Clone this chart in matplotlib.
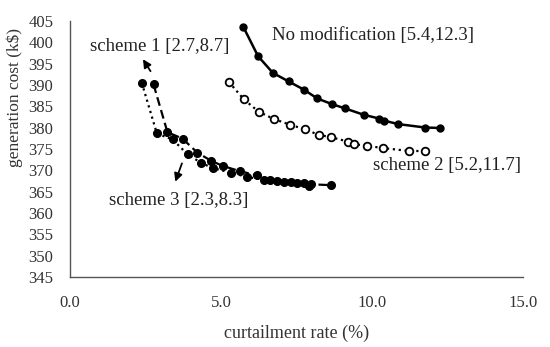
import matplotlib.pyplot as plt

plt.rcParams['font.family'] = ['Liberation Serif', 'DejaVu Serif']

# curtailment rate (%) / generation cost (k$)
nomod_x = [5.74, 6.23, 6.72, 7.24, 7.74, 8.19, 8.67, 9.10, 9.72, 10.24, 10.41, 10.87, 11.76, 12.24]
nomod_y = [403.6, 396.7, 392.8, 390.8, 388.9, 386.8, 385.5, 384.5, 383.0, 382.1, 381.6, 380.8, 380.0, 379.9]

s2_x = [5.26, 5.76, 6.25, 6.75, 7.27, 7.77, 8.23, 8.66, 9.21, 9.41, 9.85, 10.35, 11.24, 11.76]
s2_y = [390.7, 386.6, 383.7, 382.0, 380.7, 379.6, 378.3, 377.7, 376.7, 376.1, 375.7, 375.2, 374.5, 374.5]

s1_x = [2.77, 3.23, 3.73, 4.22, 4.68, 5.06, 5.62, 6.18, 6.64, 7.08, 7.53, 7.97, 8.63]
s1_y = [390.1, 378.9, 377.4, 374.1, 372.2, 371.0, 369.8, 368.8, 367.7, 367.3, 367.0, 366.7, 366.5]

s3_x = [2.38, 2.88, 3.40, 3.90, 4.35, 4.73, 5.34, 5.87, 6.42, 6.86, 7.31, 7.75, 7.92]
s3_y = [390.5, 378.6, 377.2, 373.7, 371.7, 370.5, 369.4, 368.4, 367.8, 367.5, 367.2, 366.9, 366.4]

fig = plt.figure(figsize=(5.5, 3.47), dpi=100)
ax = fig.add_axes([0.127, 0.202, 0.824, 0.738])

ax.plot(nomod_x, nomod_y, '-', color='black', lw=1.8, marker='o', ms=5)
ax.plot(s2_x, s2_y, ':', color='black', lw=1.6, marker='o', ms=5.5,
        mfc='white', mec='black', mew=1.3)
ax.plot(s1_x, s1_y, '--', color='black', lw=1.6, marker='o', ms=5.5, dashes=(4, 2))
ax.plot(s3_x, s3_y, ':', color='black', lw=1.6, marker='o', ms=5.5)

txt = dict(fontsize=13.5, color='#222222', va='center', ha='left')
ax.text(6.70, 401.6, 'No modification [5.4,12.3]', **txt)
ax.text(10.02, 371.2, 'scheme 2 [5.2,11.7]', **txt)
ax.text(0.66, 398.9, 'scheme 1 [2.7,8.7]', **txt)
ax.text(1.31, 363.0, 'scheme 3 [2.3,8.3]', **txt)

arrow = dict(arrowstyle='-|>', color='black', lw=1.3, mutation_scale=12,
             shrinkA=0, shrinkB=0)
ax.annotate('', xy=(2.42, 396.0), xytext=(2.67, 393.2), arrowprops=arrow)
ax.annotate('', xy=(3.49, 367.3), xytext=(3.71, 371.6), arrowprops=arrow)

ax.set_xlim(0, 15)
ax.set_ylim(345, 405)
ax.set_xticks([0, 5, 10, 15])
ax.set_xticklabels(['0.0', '5.0', '10.0', '15.0'])
ax.set_yticks(range(345, 406, 5))
ax.tick_params(length=0, labelsize=12, colors='#333333')
ax.tick_params(axis='y', pad=12)
ax.tick_params(axis='x', pad=13)
for s in ['top', 'right']:
    ax.spines[s].set_visible(False)
for s in ['left', 'bottom']:
    ax.spines[s].set_color('#555555')
    ax.spines[s].set_linewidth(1.0)

ax.set_xlabel('curtailment rate (%)', fontsize=13, color='#333333')
ax.set_ylabel('generation cost (k$)', fontsize=12.5, color='#333333')
ax.xaxis.set_label_coords(0.5, -0.187)
ax.yaxis.set_label_coords(-0.104, 0.70)

fig.savefig('out.png', dpi=100)
